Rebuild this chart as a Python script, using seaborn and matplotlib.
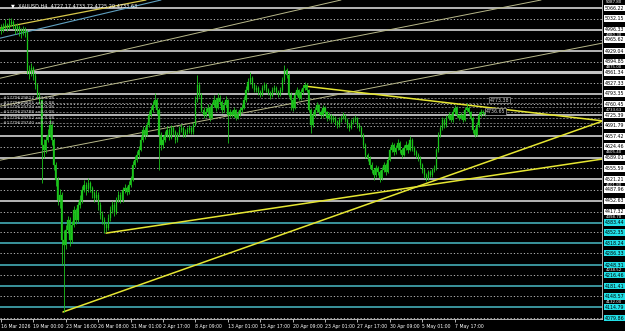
import numpy as np
import pandas as pd
import matplotlib
matplotlib.use("Agg")
import matplotlib.pyplot as plt
import matplotlib.transforms as mtransforms
import seaborn as sns

# ---------------- data ----------------
first_open = 5000
close = [
    4997, 5006, 5012, 5003, 5016, 5022, 5009, 5000, 5006, 4997,
    4987, 4997, 4990, 4869, 4863, 4876, 4850, 4822, 4790, 4774,
    4630, 4615, 4647, 4663, 4694, 4647, 4567, 4520, 4456, 4472,
    4329, 4313, 4361, 4392, 4329, 4377, 4424, 4392, 4440, 4456,
    4488, 4504, 4490, 4510, 4494, 4478, 4462, 4472, 4440, 4408,
    4392, 4377, 4367, 4399, 4424, 4440, 4418, 4456, 4472, 4456,
    4488, 4494, 4481, 4504, 4520, 4567, 4583, 4599, 4615, 4647,
    4679, 4663, 4694, 4726, 4742, 4758, 4774, 4742, 4663, 4631,
    4647, 4663, 4679, 4653, 4685, 4672, 4647, 4663, 4679, 4685,
    4663, 4672, 4679, 4685, 4672, 4694, 4774, 4822, 4790, 4742,
    4726, 4736, 4749, 4717, 4758, 4774, 4749, 4780, 4768, 4742,
    4758, 4774, 4726, 4736, 4726, 4742, 4717, 4729, 4742, 4749,
    4774, 4806, 4831, 4844, 4822, 4806, 4812, 4799, 4790, 4812,
    4822, 4806, 4796, 4787, 4806, 4812, 4799, 4790, 4806, 4838,
    4869, 4853, 4790, 4774, 4749, 4790, 4806, 4780, 4799, 4812,
    4822, 4806, 4742, 4694, 4726, 4742, 4758, 4736, 4726, 4749,
    4736, 4717, 4726, 4710, 4717, 4704, 4694, 4710, 4717, 4726,
    4710, 4694, 4685, 4704, 4710, 4717, 4694, 4685, 4663, 4631,
    4599, 4590, 4567, 4551, 4536, 4558, 4545, 4526, 4551, 4567,
    4545, 4583, 4615, 4631, 4609, 4621, 4637, 4615, 4599, 4621,
    4631, 4615, 4647, 4621, 4609, 4599, 4590, 4567, 4551, 4536,
    4526, 4545, 4536, 4551, 4558, 4615, 4663, 4685, 4710, 4694,
    4717, 4726, 4710, 4736, 4749, 4726, 4717, 4726, 4710, 4742,
    4749, 4736, 4717, 4679, 4663, 4694, 4726, 4736, 4733, 4729,
    4736, 4733.63,
]
high = [
    5015, 5020, 5030, 5020, 5034, 5036, 5028, 5014, 5018, 5012,
    5004, 5010, 5005, 4995, 4885, 4890, 4882, 4858, 4828, 4800,
    4778, 4650, 4660, 4680, 4712, 4700, 4652, 4575, 4530, 4490,
    4480, 4360, 4375, 4405, 4400, 4390, 4435, 4430, 4450, 4470,
    4500, 4520, 4512, 4525, 4515, 4500, 4485, 4488, 4480, 4450,
    4420, 4400, 4385, 4410, 4435, 4452, 4448, 4465, 4485, 4480,
    4498, 4505, 4500, 4515, 4532, 4578, 4595, 4610, 4628, 4660,
    4690, 4688, 4705, 4738, 4755, 4770, 4796, 4780, 4748, 4672,
    4660, 4675, 4690, 4685, 4695, 4692, 4678, 4672, 4690, 4698,
    4690, 4682, 4688, 4695, 4692, 4705, 4785, 4853, 4830, 4795,
    4750, 4748, 4760, 4755, 4768, 4790, 4780, 4795, 4788, 4772,
    4768, 4785, 4778, 4745, 4742, 4750, 4746, 4738, 4750, 4760,
    4785, 4818, 4845, 4863, 4850, 4828, 4822, 4818, 4805, 4820,
    4832, 4828, 4812, 4802, 4815, 4822, 4818, 4805, 4815, 4848,
    4885, 4875, 4858, 4798, 4780, 4798, 4815, 4810, 4808, 4822,
    4832, 4828, 4810, 4748, 4735, 4752, 4768, 4762, 4742, 4758,
    4755, 4740, 4735, 4730, 4725, 4722, 4710, 4718, 4725, 4735,
    4730, 4715, 4700, 4712, 4718, 4726, 4720, 4700, 4690, 4668,
    4636, 4605, 4596, 4575, 4558, 4566, 4564, 4550, 4560, 4576,
    4572, 4592, 4625, 4640, 4636, 4630, 4650, 4642, 4620, 4630,
    4642, 4636, 4660, 4652, 4626, 4614, 4605, 4595, 4572, 4556,
    4542, 4552, 4550, 4558, 4566, 4622, 4672, 4695, 4720, 4716,
    4726, 4735, 4730, 4745, 4758, 4754, 4730, 4734, 4730, 4752,
    4764, 4754, 4740, 4722, 4684, 4702, 4735, 4745, 4742, 4738,
    4744, 4738,
]
low = [
    4985, 4990, 4998, 4992, 4998, 5008, 4998, 4982, 4990, 4978,
    4972, 4980, 4975, 4855, 4840, 4850, 4838, 4810, 4780, 4760,
    4510, 4590, 4605, 4640, 4655, 4630, 4550, 4500, 4440, 4430,
    4249, 4100, 4300, 4350, 4310, 4320, 4370, 4380, 4385, 4430,
    4445, 4480, 4470, 4482, 4480, 4462, 4448, 4455, 4425, 4395,
    4380, 4351, 4355, 4360, 4390, 4415, 4405, 4410, 4448, 4445,
    4450, 4478, 4470, 4475, 4498, 4515, 4560, 4575, 4590, 4610,
    4640, 4650, 4658, 4688, 4718, 4735, 4750, 4730, 4551, 4615,
    4622, 4640, 4655, 4645, 4648, 4662, 4638, 4640, 4658, 4672,
    4655, 4656, 4665, 4670, 4664, 4666, 4690, 4768, 4782, 4735,
    4716, 4720, 4730, 4708, 4712, 4750, 4740, 4744, 4758, 4732,
    4736, 4752, 4637, 4718, 4718, 4720, 4710, 4712, 4724, 4736,
    4744, 4768, 4800, 4825, 4812, 4798, 4800, 4790, 4782, 4786,
    4806, 4800, 4788, 4778, 4782, 4800, 4792, 4782, 4786, 4800,
    4832, 4845, 4782, 4742, 4740, 4745, 4785, 4772, 4775, 4792,
    4806, 4798, 4735, 4669, 4688, 4720, 4736, 4728, 4716, 4720,
    4728, 4708, 4710, 4700, 4702, 4695, 4686, 4688, 4704, 4712,
    4702, 4686, 4676, 4680, 4698, 4704, 4686, 4676, 4655, 4620,
    4588, 4578, 4556, 4540, 4520, 4530, 4536, 4512, 4520, 4545,
    4536, 4540, 4578, 4608, 4600, 4602, 4615, 4606, 4590, 4594,
    4615, 4606, 4610, 4612, 4600, 4590, 4580, 4556, 4542, 4526,
    4515, 4518, 4528, 4530, 4544, 4552, 4608, 4656, 4678, 4686,
    4688, 4710, 4702, 4705, 4730, 4718, 4710, 4712, 4702, 4706,
    4738, 4728, 4710, 4670, 4655, 4658, 4688, 4720, 4726, 4722,
    4725, 4725,
]

time_labels = ["16 Mar 2026", "19 Mar 00:00", "23 Mar 16:00", "26 Mar 08:00",
               "31 Mar 01:00", "2 Apr 17:00", "8 Apr 09:00", "13 Apr 01:00",
               "15 Apr 17:00", "20 Apr 09:00", "23 Apr 01:00", "27 Apr 17:00",
               "30 Apr 09:00", "5 May 01:00", "7 May 17:00"]
time_label_bars = [0, 16, 32, 48, 64, 80, 96, 112, 128, 144, 160, 176, 192, 208, 224]

solid_levels = [5066.22, 4996.33, 4929.04, 4861.34, 4793.35, 4725.39,
                4657.42, 4589.01, 4521.21, 4452.63]
dashed_levels = [5032.15, 4965.62, 4894.85, 4827.33, 4760.45, 4691.79,
                 4624.46, 4555.59, 4487.96, 4417.32, 4352.35, 4286.33,
                 4216.46, 4148.57, 4079.86]
cyan_levels = [4383.44, 4318.24, 4248.31, 4181.41, 4114.79]
plain_labels = [5087.80, 4980.30, 4875.00, 4733.63, 4605.40, 4501.80,
                4398.70, 4238.52, 4132.00]
plain_label_spots = [5086.0, 4981.0, 4878.0, 4743.0, 4606.7, 4504.6,
                     4400.4, 4232.4, 4131.7]

order_levels = [4780.0, 4764.0, 4751.0, 4736.0, 4716.0, 4700.0]
order_texts = ["#1779629817 sell 0.08", "#1779629805 sell 0.08",
               "#1779629794 sell 0.08", "#1779629788 sell 0.08",
               "#1779629752 sell 0.08", "#1779629740 sell 0.08"]

# trend lines: (bar, price) anchor pairs
yellow_names = ["Y1", "Y1", "Y2", "Y2", "Y3", "Y3"]
yellow_bars = [149.6, 297.3, 51.9, 297.3, 30.6, 297.3]
yellow_prices = [4818.0, 4707.0, 4350.0, 4586.0, 4099.0, 4707.0]

channel_a = [(0.0, 4843.5), (167.9, 5091.7)]
channel_b = [(0.0, 4754.4), (266.7, 5091.7)]
channel_c = [(0.0, 4582.6), (297.3, 4954.9)]
topleft_yellow = [(0.0, 5003.0), (71.6, 5091.7)]
topleft_blue = [(0.0, 4971.0), (79.0, 5091.7)]

price_tags = [(241.5, 4773.38), (239.5, 4736.65)]

header = "\u25bc  XAUUSD,H4  4727.17 4733.72 4725.29 4733.63"

# ---------------- drawing ----------------
sns.set_theme(style="dark")
plt.rcParams["font.family"] = ["DejaVu Sans"]

W, H = 625, 331
fig = plt.figure(figsize=(W / 100, H / 100), dpi=100, facecolor="black")
ax = fig.add_axes([0, 12 / H, 602 / W, 319 / H])
ax.set_facecolor("black")

ymax, ymin = 5091.7, 4076.7
ax.set_ylim(ymin, ymax)
ax.set_xlim(-0.5, 296.8)

# level lines
for lv in solid_levels:
    lw = 2.2 if abs(lv - 4861.34) < 0.01 else 1.3
    ax.axhline(lv, color="#c4c4c4", lw=lw, zorder=1)
for lv in dashed_levels:
    ax.axhline(lv, color="#d0d0d0", lw=0.6, ls=(0, (1.5, 2.5)), zorder=1)
for lv in cyan_levels:
    ax.axhline(lv, color="#3f9fa8", lw=1.3, zorder=1)
for lv in order_levels:
    ax.axhline(lv, color="#9a9a9a", lw=0.5, ls=(0, (3, 2)), zorder=1)

# channel lines
for pts in (channel_a, channel_b, channel_c):
    ax.axline(pts[0], pts[1], color="#b9b98a", lw=0.7, zorder=2)
ax.axline(topleft_yellow[0], topleft_yellow[1], color="#d8c84a", lw=0.9, zorder=2)
ax.axline(topleft_blue[0], topleft_blue[1], color="#5fa0c0", lw=0.8, zorder=2)

# yellow trend rays
tdf = pd.DataFrame({"line": yellow_names, "bar": yellow_bars, "price": yellow_prices})
sns.lineplot(data=tdf, x="bar", y="price", units="line", estimator=None,
             color="#e6e632", lw=1.1, sort=False, ax=ax, legend=False, zorder=3)

# candles
opens = [first_open] + close[:-1]
df = pd.DataFrame({"o": opens, "h": high, "l": low, "c": close})
df["bar"] = np.arange(len(df))
df["bot"] = df[["o", "c"]].min(axis=1)
df["hgt"] = (df["o"] - df["c"]).abs().clip(lower=1.5)
candle_col = "#1cc41c"
ax.vlines(df["bar"], df["l"], df["h"], color=candle_col, lw=0.6, zorder=4)
ax.bar(df["bar"], df["hgt"], bottom=df["bot"], width=0.55, color=candle_col,
       edgecolor=candle_col, lw=0.2, zorder=5)

# order labels on the left
for lv, t in zip(order_levels, order_texts):
    ax.text(1, lv, t, fontsize=3.2, color="#d8d8d8", va="center", ha="left", zorder=6)

# price tags near the last candles
for b, p in price_tags:
    ax.text(b, p, f"{p:.2f}", fontsize=3.4, color="#cfcfcf", va="center", ha="left",
            zorder=6, bbox=dict(boxstyle="square,pad=0.15", fc="black", ec="#9a9a9a", lw=0.5))

# header
ax.text(0.018, 0.988, header, transform=ax.transAxes, fontsize=3.6, color="white",
        va="top", ha="left", zorder=7)

# right scale labels
trans = mtransforms.blended_transform_factory(ax.transAxes, ax.transData)
for lv in solid_levels + dashed_levels:
    cyan = lv < 4400
    ax.text(1.004, lv, f"{lv:.2f}", transform=trans, fontsize=3.4, va="center", ha="left",
            color="black", clip_on=False,
            bbox=dict(boxstyle="square,pad=0.18", fc="#22e0e8" if cyan else "white", ec="none"))
for lv in cyan_levels:
    ax.text(1.004, lv, f"{lv:.2f}", transform=trans, fontsize=3.4, va="center", ha="left",
            color="black", clip_on=False,
            bbox=dict(boxstyle="square,pad=0.18", fc="#22e0e8", ec="none"))
for lv, spot in zip(plain_labels, plain_label_spots):
    ax.text(1.006, spot, f"{lv:.2f}", transform=trans, fontsize=2.9, va="center", ha="left",
            color="white", clip_on=False, zorder=8)

# axes styling
ax.set_yticks([])
ax.set_xticks(time_label_bars)
ax.set_xticklabels(time_labels, fontsize=3.3, color="white", ha="left")
ax.tick_params(axis="x", colors="white", length=2, width=0.5, pad=1.5,
               labelsize=3.3, labelcolor="white", bottom=True)
ax.set_xlabel("")
ax.set_ylabel("")
ax.grid(False)
for s in ["left", "top"]:
    ax.spines[s].set_visible(False)
for s in ["right", "bottom"]:
    ax.spines[s].set_visible(True)
    ax.spines[s].set_color("#d0d0d0")
    ax.spines[s].set_linewidth(0.6)

fig.savefig("out.png", dpi=100, facecolor="black")
